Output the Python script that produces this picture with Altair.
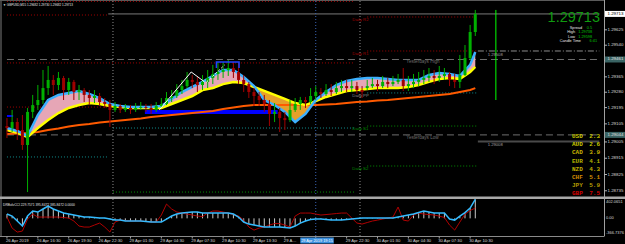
import altair as alt
import pandas as pd

# ---------------- data ----------------
# GBPUSD M15 candles (one drawn bar per entry)
opens = [1.29093, 1.29082, 1.29115, 1.29071, 1.28988, 1.29171, 1.29209, 1.29237, 1.29303, 1.29348,
         1.29320, 1.29359, 1.29292, 1.29337, 1.29281, 1.29292, 1.29265, 1.29248, 1.29259, 1.29226,
         1.29215, 1.29182, 1.29204, 1.29182, 1.29193, 1.29182, 1.29193, 1.29198, 1.29193, 1.29182,
         1.29204, 1.29215, 1.29248, 1.29259, 1.29292, 1.29314, 1.29348, 1.29337, 1.29320, 1.29337,
         1.29359, 1.29381, 1.29392, 1.29403, 1.29414, 1.29392, 1.29348, 1.29325, 1.29281, 1.29259,
         1.29237, 1.29215, 1.29160, 1.29171, 1.29137, 1.29126, 1.29182, 1.29215, 1.29237, 1.29226,
         1.29259, 1.29281, 1.29270, 1.29292, 1.29281, 1.29303, 1.29314, 1.29303, 1.29314, 1.29292,
         1.29303, 1.29314, 1.29325, 1.29314, 1.29337, 1.29325, 1.29337, 1.29348, 1.29314, 1.29325,
         1.29337, 1.29348, 1.29359, 1.29370, 1.29359, 1.29370, 1.29381, 1.29348,
         1.29337, 1.29375, 1.29469, 1.29613]
highs = [1.29137, 1.29182, 1.29137, 1.29154, 1.29193, 1.29265, 1.29320, 1.29403, 1.29425, 1.29375,
         1.29392, 1.29370, 1.29359, 1.29348, 1.29320, 1.29303, 1.29292, 1.29292, 1.29276, 1.29248,
         1.29237, 1.29226, 1.29215, 1.29215, 1.29209, 1.29220, 1.29226, 1.29215, 1.29215, 1.29226,
         1.29248, 1.29281, 1.29292, 1.29325, 1.29348, 1.29392, 1.29375, 1.29364, 1.29375, 1.29403,
         1.29431, 1.29447, 1.29447, 1.29458, 1.29447, 1.29442, 1.29375, 1.29337, 1.29303, 1.29281,
         1.29265, 1.29237, 1.29220, 1.29193, 1.29171, 1.29237, 1.29248, 1.29254, 1.29254, 1.29303,
         1.29314, 1.29303, 1.29325, 1.29325, 1.29337, 1.29348, 1.29348, 1.29348, 1.29337, 1.29314,
         1.29348, 1.29359, 1.29348, 1.29370, 1.29359, 1.29370, 1.29381, 1.29414, 1.29370, 1.29381,
         1.29392, 1.29403, 1.29414, 1.29403, 1.29425, 1.29414, 1.29392, 1.29381,
         1.29486, 1.29541, 1.29652, 1.29735]
lows = [1.29027, 1.29060, 1.29016, 1.28961, 1.28728, 1.29137, 1.29182, 1.29215, 1.29265, 1.29265,
        1.29292, 1.29237, 1.29265, 1.29237, 1.29237, 1.29226, 1.29209, 1.29220, 1.29204, 1.29193,
        1.29088, 1.29171, 1.29165, 1.29171, 1.29160, 1.29171, 1.29182, 1.29171, 1.29160, 1.29171,
        1.29193, 1.29209, 1.29226, 1.29248, 1.29270, 1.29303, 1.29303, 1.29281, 1.29292, 1.29303,
        1.29325, 1.29348, 1.29359, 1.29370, 1.29359, 1.29325, 1.29281, 1.29248, 1.29204, 1.29204,
        1.29171, 1.29093, 1.29115, 1.29060, 1.29071, 1.29115, 1.29171, 1.29182, 1.29193, 1.29215,
        1.29237, 1.29248, 1.29259, 1.29259, 1.29270, 1.29281, 1.29281, 1.29281, 1.29270, 1.29248,
        1.29292, 1.29303, 1.29287, 1.29303, 1.29303, 1.29314, 1.29325, 1.29287, 1.29287, 1.29303,
        1.29314, 1.29325, 1.29337, 1.29325, 1.29337, 1.29348, 1.29314, 1.29303,
        1.29303, 1.29370, 1.29458, 1.29591]
closes = [1.29082, 1.29115, 1.29071, 1.28988, 1.29171, 1.29209, 1.29237, 1.29303, 1.29348, 1.29320,
          1.29359, 1.29292, 1.29337, 1.29281, 1.29292, 1.29265, 1.29248, 1.29259, 1.29226, 1.29215,
          1.29182, 1.29204, 1.29182, 1.29193, 1.29182, 1.29193, 1.29198, 1.29193, 1.29182, 1.29204,
          1.29215, 1.29248, 1.29259, 1.29292, 1.29314, 1.29348, 1.29337, 1.29320, 1.29337, 1.29359,
          1.29381, 1.29392, 1.29403, 1.29414, 1.29392, 1.29348, 1.29325, 1.29281, 1.29259, 1.29237,
          1.29215, 1.29160, 1.29171, 1.29137, 1.29126, 1.29182, 1.29215, 1.29237, 1.29226, 1.29259,
          1.29281, 1.29270, 1.29292, 1.29281, 1.29303, 1.29314, 1.29303, 1.29314, 1.29292, 1.29281,
          1.29314, 1.29325, 1.29314, 1.29337, 1.29325, 1.29337, 1.29348, 1.29314, 1.29325, 1.29337,
          1.29348, 1.29359, 1.29370, 1.29359, 1.29370, 1.29381, 1.29348, 1.29337,
          1.29375, 1.29469, 1.29613, 1.29713]

# moving-average ribbon, sampled every second bar
ma_bars = list(range(0, 92, 2)) + [91]
ma_fast = [1.29082, 1.29066, 1.29038, 1.29154, 1.29237, 1.29265, 1.29276, 1.29287, 1.29270, 1.29248,
           1.29215, 1.29204, 1.29198, 1.29198, 1.29198, 1.29204, 1.29243, 1.29281, 1.29309, 1.29337,
           1.29370, 1.29403, 1.29403, 1.29364, 1.29314, 1.29237, 1.29209, 1.29171, 1.29115, 1.29160,
           1.29237, 1.29281, 1.29320, 1.29342, 1.29353, 1.29359, 1.29359, 1.29353, 1.29348, 1.29348,
           1.29348, 1.29375, 1.29386, 1.29381, 1.29370, 1.29431, 1.29502]
ma_slow = [1.29071, 1.29055, 1.29032, 1.29082, 1.29126, 1.29165, 1.29193, 1.29209, 1.29220, 1.29215,
           1.29204, 1.29198, 1.29193, 1.29193, 1.29193, 1.29193, 1.29215, 1.29237, 1.29259, 1.29292,
           1.29303, 1.29325, 1.29337, 1.29331, 1.29309, 1.29287, 1.29265, 1.29243, 1.29220, 1.29209,
           1.29231, 1.29254, 1.29270, 1.29287, 1.29292, 1.29298, 1.29303, 1.29303, 1.29303, 1.29309,
           1.29320, 1.29337, 1.29353, 1.29359, 1.29353, 1.29392, 1.29420]
ma_long = [1.29049, 1.29052, 1.29055, 1.29060, 1.29071, 1.29079, 1.29090, 1.29099, 1.29104, 1.29113,
           1.29118, 1.29124, 1.29129, 1.29135, 1.29143, 1.29149, 1.29154, 1.29160, 1.29165, 1.29171,
           1.29176, 1.29187, 1.29196, 1.29204, 1.29209, 1.29209, 1.29209, 1.29209, 1.29209, 1.29209,
           1.29209, 1.29212, 1.29215, 1.29220, 1.29226, 1.29229, 1.29234, 1.29237, 1.29243, 1.29248,
           1.29254, 1.29259, 1.29265, 1.29270, 1.29281, 1.29292, 1.29303]

# CCI indicator panel
cci_main = [89, 48, -56, -160, 48, 152, 131, 194, 256, 194,
            152, 110, 89, 69, 48, 27, 27, 17, 6, 6,
            -14, -36, -36, -56, -56, -56, -56, -67, -77, -77,
            -77, -14, 48, 89, 110, 120, 131, 131, 110, 110,
            110, 110, 110, 110, 89, 27, -77, -119, -139, -160,
            -181, -181, -181, -181, -191, -202, -160, -98, -56, -25,
            -14, -14, -25, -36, -36, -36, -25, -14, -4, 6,
            6, 6, 6, 6, 6, 6, 27, 48, 69, 89,
            120, 152, 131, 110, 110, 110, -14, -36, 48, 120,
            214, 396]
cci_signal = [27, -202, -285, -264, -14, 89, 27, 27, 27, 27,
              27, 17, 6, -56, -160, -181, -181, -139, -98, -181,
              -285, -77, -36, -45, -56, -56, -56, -67, -77, -77,
              69, 297, 194, 131, 110, 89, 69, 48, 37, 110,
              152, 152, 131, 110, 79, 48, -36, -181, -244, -202,
              -181, -139, -108, -108, -139, -181, 48, 110, 110, 110,
              89, 69, 79, 89, 100, 110, 110, 6, -98, -119,
              -87, -56, -36, -14, 6, 27, 235, -36, -56, 69,
              110, 89, 79, 69, 48, 17, -139, -244, -77, 89,
              162, 214]
ind_max, ind_zero, ind_min = 402.0651, 0.0, -366.7376

# axes
time_tick_bars = [0, 6, 12, 18, 24, 30, 36, 42, 48, 54, 60, 66, 72, 78, 84, 90]
time_tick_labels = ["26 Apr 2019", "26 Apr 16:30", "26 Apr 19:30", "26 Apr 22:30", "29 Apr 01:30",
                    "29 Apr 04:30", "29 Apr 07:30", "29 Apr 10:30", "29 Apr 13:30", "29 Apr 16:30",
                    "29 Apr 19:30", "29 Apr 22:30", "30 Apr 01:30", "30 Apr 04:30", "30 Apr 07:30",
                    "30 Apr 10:30"]
price_ticks = [1.29625, 1.29540, 1.29455, 1.29365, 1.29280, 1.29195, 1.29105, 1.29005,
               1.28915, 1.28825, 1.28735]

# horizontal level segments (bar from, bar to, price, style)
seg_from = [0, 0, 0, 0, 70, 70, 19.7, 0, 0, 20.6, 0, 70, 70, 70, 20.6, 91.5, 37.9]
seg_to = [67.5, 19.7, 67.5, 20.6, 91.5, 91.5, 115.1, 115.1, 115.1, 67.5, 19.7, 91.5, 91.5, 91.5, 67.5, 115.1, 40.3]
seg_price = [1.29782, 1.29707, 1.29442, 1.29198, 1.29696, 1.29508, 1.29713, 1.29461, 1.29044,
             1.29082, 1.28922, 1.29276, 1.29093, 1.28872, 1.28728, 1.29508, 1.29303]
seg_style = ["red", "red", "red", "red", "red", "red", "bid", "ydash", "ydash",
             "teal", "teal", "teal", "green", "green", "green", "dashdot", "white"]
level_1_29008 = 1.29008

day_sep_bars = [20.6, 68.6]
crosshair_bar = 60.0
cursor_box_bars = [57.0, 63.5]
timer_bar = 95.0
timer_from, timer_to = 1.29735, 1.29237

# blue zone boxes
zone_from = [26.8, 0.0]
zone_to = [52.6, 1.2]
zone_low = [1.29160, 1.29143]
zone_high = [1.29182, 1.29154]

# pattern lines
zz_bars = [29.6, 35.8, 38.4]
zz_prices = [1.29182, 1.29392, 1.29337]
zd_bars = [38.8, 42.3]
zd_prices = [1.29337, 1.29431]
box_bars = [40.7, 40.7, 45.1, 45.1]
box_prices = [1.29414, 1.29447, 1.29447, 1.29414]

# level labels
piv_labels = ["Daily R2", "Daily R1", "Daily PP", "Daily S1", "Daily S2"]
piv_prices = [1.29696, 1.29508, 1.29276, 1.29093, 1.28872]
piv_bar = 67.1
yd_labels = ["Yesterdays High", "Yesterdays Low"]
yd_prices = [1.29461, 1.29044]
yd_bar = 77.6
lvl_labels = ["1.29508", "1.29008"]
lvl_prices = [1.29508, 1.29008]
lvl_bar = 93.4

hl_prices = [1.29713, 1.29461, 1.29044]

currencies = ["USD", "AUD", "CAD", "EUR", "NZD", "CHF", "JPY", "GBP"]
strengths = [2.3, 2.6, 3.9, 4.1, 4.3, 5.1, 5.9, 7.5]
cur_colors = ["#c8c800", "#c8c800", "#c8b400", "#b4b400", "#c0b000", "#d08c00", "#b49b00", "#d00000"]

symbol_header = "▼ GBPUSD,M15  1.29682 1.29730 1.29682 1.29713"
ind_header = "DRBolvCCI 229.7571 395.8472 385.8472 0.0000"
last_price = "1.29713"
info_rows = [("Spread", "0.5"), ("High", "1.29738"), ("Low", "1.29598"), ("Candle Time", "6:41")]
cursor_time = "29 Apr 2019 19:15"

# ---------------- chart ----------------
FONT = "Liberation Sans"
W, H = 625, 244
PXB = 5.23  # pixels per drawn bar

xs = alt.Scale(domain=[-2 / PXB, (W - 2) / PXB], nice=False, zero=False)
ys = alt.Scale(domain=[1.2844068, 1.29790], nice=False, zero=False)
iys = alt.Scale(domain=[-532.95, 4536.9], nice=False, zero=False)


def PX(f):
    return alt.X(f"{f}:Q", scale=xs, axis=None, title=None)


def PY(f):
    return alt.Y(f"{f}:Q", scale=ys, axis=None, title=None)


def IY(f):
    return alt.Y(f"{f}:Q", scale=iys, axis=None, title=None)


dummy = pd.DataFrame({"d": [0]})


def label(text, x, y, color, size=4.5, align="left", baseline="middle", font=FONT, bold=False):
    return alt.Chart(dummy).mark_text(
        align=align, baseline=baseline, font=font, fontSize=size, color=color,
        fontWeight="bold" if bold else "normal"
    ).encode(x=alt.value(x), y=alt.value(y), text=alt.value(text))


def frame(x1, x2, y1, y2, color, width=1.0):
    return alt.Chart(dummy).mark_rule(color=color, strokeWidth=width).encode(
        x=alt.value(x1), x2=alt.value(x2), y=alt.value(y1), y2=alt.value(y2))


layers = []

# frame of the two panels
layers += [frame(1, 1, 0, 236, "#7a7a7a"), frame(0, 604.5, 0.5, 0.5, "#5a5a5a"),
           frame(0, 604.5, 236.5, 236.5, "#8a8a8a")]

# level lines
segs = pd.DataFrame({"x1": seg_from, "x2": seg_to, "price": seg_price, "style": seg_style})
styles = ["red", "bid", "ydash", "teal", "green", "dashdot", "white"]
style_colors = ["#a00000", "#8c8c8c", "#6e6e6e", "#108c8c", "#009000", "#8c8c8c", "#ffffff"]
style_dash = [[1, 2], [1, 0], [7, 4], [1, 2], [1, 2], [6, 2, 1, 2], [1, 0]]
layers.append(alt.Chart(segs).mark_rule(strokeWidth=1).encode(
    x=PX("x1"), x2="x2:Q", y=PY("price"),
    color=alt.Color("style:N", scale=alt.Scale(domain=styles, range=style_colors), legend=None),
    strokeDash=alt.StrokeDash("style:N", scale=alt.Scale(domain=styles, range=style_dash), legend=None)))
layers.append(alt.Chart(pd.DataFrame({"x1": [91.5], "x2": [115.1], "price": [level_1_29008]})).mark_rule(
    strokeWidth=2, color="#4a4a4a").encode(x=PX("x1"), x2="x2:Q", y=PY("price")))

# vertical separators (main + indicator)
sep_df = pd.DataFrame({"bar": day_sep_bars})
cross_df = pd.DataFrame({"bar": [crosshair_bar]})
for y1, y2 in [(1, 196), (199, 236)]:
    layers.append(alt.Chart(sep_df).mark_rule(color="#8c8c8c", strokeDash=[1, 2]).encode(
        x=PX("bar"), y=alt.value(y1), y2=alt.value(y2)))
    layers.append(alt.Chart(cross_df).mark_rule(color="#3a64b4", strokeDash=[1, 2]).encode(
        x=PX("bar"), y=alt.value(y1), y2=alt.value(y2)))

# zones
layers.append(alt.Chart(pd.DataFrame({"x1": zone_from, "x2": zone_to, "lo": zone_low, "hi": zone_high}))
              .mark_rect(color="#0000ff").encode(x=PX("x1"), x2="x2:Q", y=PY("lo"), y2="hi:Q"))

# MA ribbon
band = pd.DataFrame({"bar": ma_bars, "fast": ma_fast, "slow": ma_slow, "long": ma_long})
bb = alt.Chart(band).transform_calculate(top="max(datum.fast, datum.slow)")
layers += [
    bb.mark_area(color="#e6a6b6").encode(x=PX("bar"), y=PY("slow"), y2="top:Q"),
    bb.mark_area(color="#e6a02a").encode(x=PX("bar"), y=PY("fast"), y2="top:Q"),
    bb.mark_line(color="#ff5a00", strokeWidth=2).encode(x=PX("bar"), y=PY("long")),
    bb.mark_line(color="#ffff00", strokeWidth=2.5).encode(x=PX("bar"), y=PY("slow")),
    bb.mark_line(color="#3cb0ff", strokeWidth=2.5).encode(x=PX("bar"), y=PY("fast")),
]

# candles
candles = pd.DataFrame({"bar": list(range(len(closes))), "open": opens, "high": highs,
                        "low": lows, "close": closes})
ccolor = alt.condition("datum.close >= datum.open", alt.value("#00b000"), alt.value("#a00000"))
layers += [
    alt.Chart(candles).mark_rule(strokeWidth=1).encode(x=PX("bar"), y=PY("low"), y2="high:Q", color=ccolor),
    alt.Chart(candles).mark_bar(size=3).encode(x=PX("bar"), y=PY("open"), y2="close:Q", color=ccolor),
]

# pattern lines
layers += [
    alt.Chart(pd.DataFrame({"bar": zz_bars, "price": zz_prices})).mark_line(
        color="#ffffff", strokeWidth=1).encode(x=PX("bar"), y=PY("price")),
    alt.Chart(pd.DataFrame({"bar": zd_bars, "price": zd_prices})).mark_line(
        color="#ffffff", strokeWidth=1, strokeDash=[2, 2]).encode(x=PX("bar"), y=PY("price")),
    alt.Chart(pd.DataFrame({"bar": box_bars, "price": box_prices, "o": [0, 1, 2, 3]})).mark_line(
        color="#2040ff", strokeWidth=1.5).encode(x=PX("bar"), y=PY("price"), order="o:Q"),
    alt.Chart(pd.DataFrame({"bar": [timer_bar], "p1": [timer_from], "p2": [timer_to]})).mark_rule(
        color="#00ff00", strokeWidth=1).encode(x=PX("bar"), y=PY("p1"), y2="p2:Q"),
]

# level labels
piv_colors = ["#a00000", "#a00000", "#8c8c8c", "#008c00", "#008c00"]
for t, p, c in zip(piv_labels, piv_prices, piv_colors):
    layers.append(alt.Chart(pd.DataFrame({"bar": [piv_bar], "price": [p]})).mark_text(
        align="left", baseline="middle", dy=3, fontSize=4.3, font=FONT, color=c).encode(
        x=PX("bar"), y=PY("price"), text=alt.value(t)))
for t, p in zip(yd_labels, yd_prices):
    layers.append(alt.Chart(pd.DataFrame({"bar": [yd_bar], "price": [p]})).mark_text(
        align="left", baseline="middle", dy=3, fontSize=4.6, font=FONT, color="#6e6e6e").encode(
        x=PX("bar"), y=PY("price"), text=alt.value(t)))
for t, p in zip(lvl_labels, lvl_prices):
    layers.append(alt.Chart(pd.DataFrame({"bar": [lvl_bar], "price": [p]})).mark_text(
        align="left", baseline="middle", dy=4, fontSize=4.2, font=FONT, color="#a0a0a0").encode(
        x=PX("bar"), y=PY("price"), text=alt.value(t)))

# right price scale
pt = pd.DataFrame({"price": price_ticks})
layers += [
    frame(604.5, 604.5, 0, 236, "#a0a0a0"),
    alt.Chart(pt).mark_rule(color="#b0b0b0").encode(x=alt.value(604), x2=alt.value(607), y=PY("price")),
    alt.Chart(pt).mark_text(align="left", baseline="middle", fontSize=4.4, font=FONT, color="#d8d8d8").encode(
        x=alt.value(607.5), y=PY("price"), text=alt.Text("price:Q", format=".5f")),
]
hl_bg = ["#ffffff", "#3a6464", "#3a6464"]
hl_fg = ["#000000", "#e0e0e0", "#e0e0e0"]
for p, bg, fg in zip(hl_prices, hl_bg, hl_fg):
    d = pd.DataFrame({"price": [p]})
    layers.append(alt.Chart(d).mark_rule(strokeWidth=6, color=bg).encode(
        x=alt.value(605), x2=alt.value(625), y=PY("price")))
    layers.append(alt.Chart(d).mark_text(align="left", baseline="middle", fontSize=4.4, font=FONT, color=fg).encode(
        x=alt.value(607.5), y=PY("price"), text=alt.Text("price:Q", format=".5f")))

# info panel (top right)
layers.append(label(last_price, 600, 22.3, "#109a10", size=14.5, align="right", baseline="alphabetic"))
info_label_x = [582, 575, 575, 581]
info_value_x = [592, 592, 592, 597]
info_y = [27.6, 32.2, 36.8, 41.4]
for (lab, val), lx, vx, yy in zip(info_rows, info_label_x, info_value_x, info_y):
    layers.append(label(lab, lx, yy, "#e8e8e8", size=3.8, align="right"))
    layers.append(label(val, vx, yy, "#00c800", size=3.8, align="right"))

# currency strength list
for i, (cur, val, col) in enumerate(zip(currencies, strengths, cur_colors)):
    yy = 136 + 8.2 * i
    layers.append(label(cur, 572, yy, col, size=6, font="Liberation Mono", bold=True))
    layers.append(label(f"{val:.1f}", 600, yy, col, size=6, align="right", font="Liberation Mono", bold=True))

layers.append(label(symbol_header, 3, 5, "#e8e8e8", size=3.0))

# ---- indicator panel ----
ind_df = pd.DataFrame({"bar": list(range(len(cci_main))), "cci": cci_main, "sig": cci_signal})
layers += [
    alt.Chart(ind_df).mark_rule(color="#c8c8c8", strokeWidth=1).encode(
        x=PX("bar"), y=IY("cci"), y2=alt.datum(0)),
    alt.Chart(ind_df).mark_line(color="#b00000", strokeWidth=1).encode(x=PX("bar"), y=IY("sig")),
    alt.Chart(ind_df).mark_line(color="#33bbff", strokeWidth=1.5).encode(x=PX("bar"), y=IY("cci")),
    label(ind_header, 3, 205, "#e0e0e0", size=3.3),
]
for v, base, txt, dy in [(ind_max, "top", f"{ind_max:.4f}", 1), (ind_zero, "middle", "0.00", 0),
                         (ind_min, "bottom", f"{ind_min:.4f}", -1)]:
    d = pd.DataFrame({"v": [v]})
    layers.append(alt.Chart(d).mark_text(align="left", baseline=base, fontSize=4.0, font=FONT,
                                         color="#d8d8d8", dy=dy).encode(
        x=alt.value(606), y=IY("v"), text=alt.value(txt)))

# separator between panels
layers.append(frame(0, 625, 197.8, 197.8, "#a8a8a8", 2.5))

# time axis: the cursor box hides the label under it and cuts the one before it
tt = pd.DataFrame({"bar": time_tick_bars, "lab": time_tick_labels})
cbox = pd.DataFrame({"b1": [cursor_box_bars[0]], "b2": [cursor_box_bars[1]],
                     "mid": [(cursor_box_bars[0] + cursor_box_bars[1]) / 2]})
box_left, box_right = cursor_box_bars
lab_style = dict(align="left", baseline="middle", fontSize=4.2, font=FONT, color="#d8d8d8", dx=-1)
layers += [
    alt.Chart(tt).mark_rule(color="#a0a0a0").encode(x=PX("bar"), y=alt.value(236.5), y2=alt.value(238.5)),
    alt.Chart(tt).transform_filter(f"datum.bar < {box_left} - 5 || datum.bar > {box_right}")
    .mark_text(**lab_style).encode(x=PX("bar"), y=alt.value(240.5), text="lab:N"),
    alt.Chart(tt).transform_filter(f"datum.bar >= {box_left} - 5 && datum.bar < {box_left}")
    .mark_text(limit=15, ellipsis="", **lab_style).encode(x=PX("bar"), y=alt.value(240.5), text="lab:N"),
    alt.Chart(cbox).mark_rect(color="#3a90e0").encode(
        x=PX("b1"), x2="b2:Q", y=alt.value(237.5), y2=alt.value(243.5)),
    alt.Chart(cbox).mark_text(align="center", baseline="middle", fontSize=3.9, font=FONT, color="#ffffff").encode(
        x=PX("mid"), y=alt.value(240.5), text=alt.value(cursor_time)),
]

chart = alt.layer(*layers).resolve_scale(
    y="independent", color="independent", strokeDash="independent"
).properties(
    width=W, height=H, padding=0, background="#000000",
    autosize=alt.AutoSizeParams(type="none"),
).configure_view(strokeWidth=0)

chart.save("out.html", embed_options={"renderer": "svg", "actions": False})
